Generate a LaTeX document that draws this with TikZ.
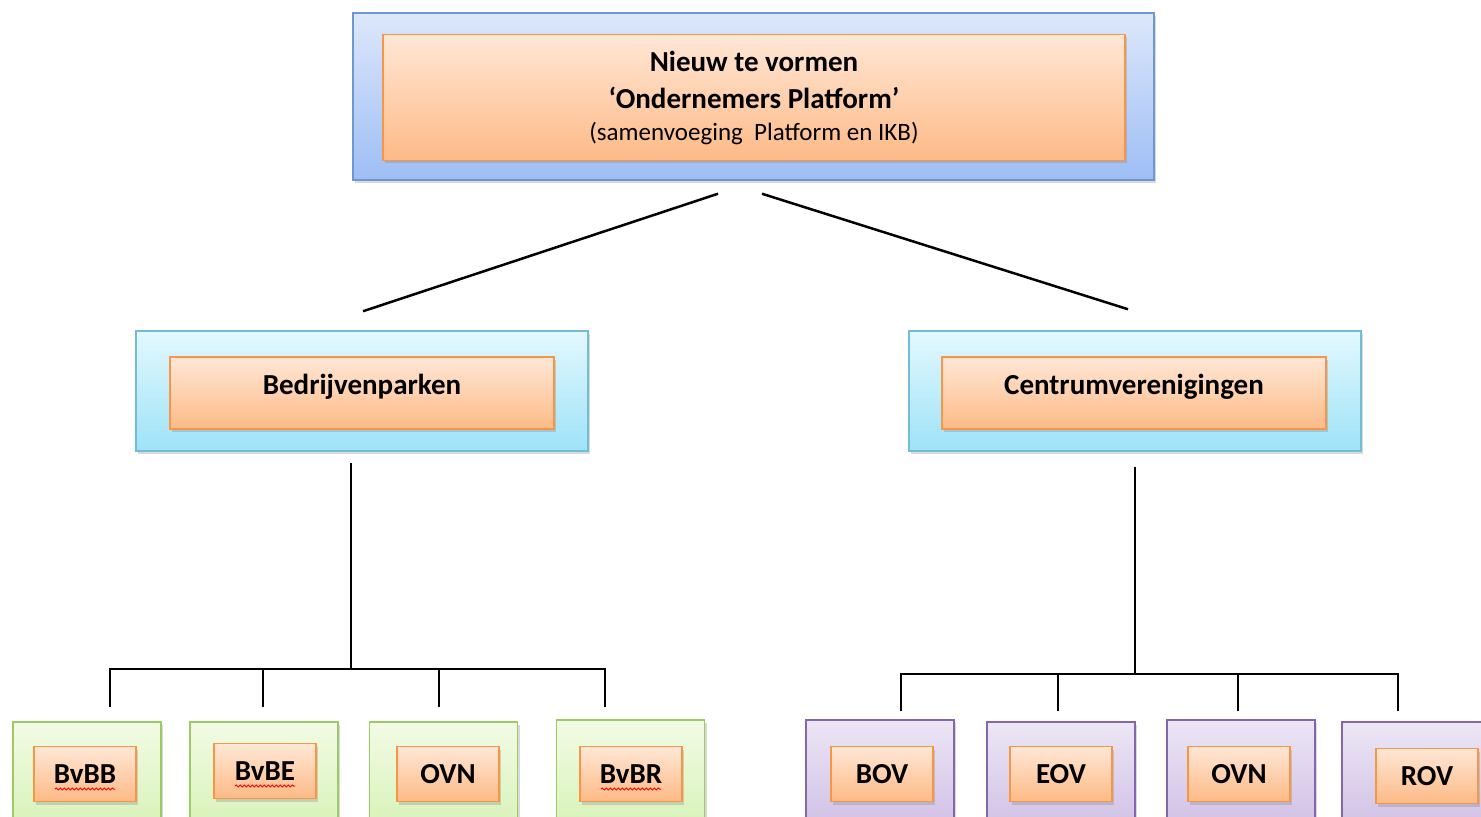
\documentclass[tikz,border=0pt]{standalone}
\usepackage{fontspec}
\setmainfont{Carlito}
\usetikzlibrary{positioning,calc,shadows,decorations.pathmorphing}

\definecolor{orTop}{HTML}{FFE7D6}
\definecolor{orBot}{HTML}{FDBA86}
\definecolor{orLine}{HTML}{F79646}
\definecolor{blTop}{HTML}{DDE7FB}
\definecolor{blBot}{HTML}{9EBEF4}
\definecolor{blLine}{HTML}{6F97D3}
\definecolor{cyTop}{HTML}{E3F8FE}
\definecolor{cyBot}{HTML}{9EE3F8}
\definecolor{cyLine}{HTML}{72BCD6}
\definecolor{grTop}{HTML}{F2FBE5}
\definecolor{grBot}{HTML}{CDEFA6}
\definecolor{grLine}{HTML}{9BCB62}
\definecolor{puTop}{HTML}{ECE6F5}
\definecolor{puBot}{HTML}{C6B1DF}
\definecolor{puLine}{HTML}{8466AA}

\tikzset{
    box/.style={draw, line width=0.75pt, inner sep=0pt,
        drop shadow={opacity=0.3, shadow xshift=1pt, shadow yshift=-1.5pt}},
    kader/.style={box, draw=#1Line, top color=#1Top, bottom color=#1Bot},
    blok/.style={box, draw=orLine, top color=orTop, bottom color=orBot,
        font=\fontsize{14.5}{18.5}\selectfont\bfseries},
    link/.style={line width=1.25pt},
    spell/.style={red, line width=0.5pt, decorate,
        decoration={snake, amplitude=0.5pt, segment length=2pt}}
}

\begin{document}
\begin{tikzpicture}[x=0.5pt,y=-0.5pt]
    \useasboundingbox (0,0) rectangle (1481,817);
    \clip (0,0) rectangle (1481,817);

    % top level
    \node[kader=bl, minimum width=400.5pt, minimum height=83.5pt] (plat-o) at (753.5,96.5) {};
    \node[blok, minimum width=371pt, minimum height=63pt, align=center] (plat) at (754,97.5)
        {Nieuw te vormen\\ ‘Ondernemers Platform’\\[-2.5pt]
         {\mdseries\fontsize{12.5}{16}\selectfont (samenvoeging~ Platform en IKB)}};

    % second level
    \node[kader=cy, minimum width=226pt, minimum height=60pt] (bpark-o) at (362,391) {};
    \node[blok, minimum width=192pt, minimum height=36pt] (bpark) at (362,393)
        {\raisebox{3pt}[\height][\depth]{Bedrijvenparken}};
    \node[kader=cy, minimum width=226pt, minimum height=60pt] (centr-o) at (1135,391) {};
    \node[blok, minimum width=192pt, minimum height=36pt] (centr) at (1134,393)
        {\raisebox{3pt}[\height][\depth]{Centrumverenigingen}};

    \draw[link] ($(plat-o.south)+(-35.5,13)$) -- ($(bpark-o.north)+(1,-19)$);
    \draw[link] ($(plat-o.south)+(8.5,13)$) -- ($(centr-o.north)+(-7,-21)$);

    % busses
    \coordinate (busL) at (351,669);
    \coordinate (busR) at (1135,674);
    \draw[link] ($(bpark-o.south)+(-11,11)$) -- (busL);
    \draw[link] ($(centr-o.south)+(0,15)$) -- (busR);

    % bottom row, Bedrijvenparken
    \foreach \name/\ox/\oy/\ix/\iy/\dx/\dy/\txt in {
        bvbb/87/797/85/774/23/14/BvBB,
        bvbe/264/797/265/771/-1/14/BvBE,
        ovna/443.5/797/448/774/-4.5/14/OVN,
        bvbr/630.5/795/631/774/-25.5/12/BvBR} {
        \node[kader=gr, minimum width=74pt, minimum height=75pt] (\name-o) at (\ox,\oy) {};
        \node[blok, minimum width=51pt, minimum height=27.5pt] (\name) at (\ix,\iy) {\txt};
        \draw[link] ($(\name-o.north)+(\dx,-\dy)$) |- (busL);
    }
    \foreach \name in {bvbb,bvbe,bvbr}
        \draw[spell] ($(\name.center)+(-30,15)$) -- ++(60,0);

    % bottom row, Centrumverenigingen
    \foreach \name/\ox/\oy/\ix/\iy/\dx/\dy/\txt in {
        bov/880/795/882/774/21/8/BOV,
        eov/1061/797/1061/774/-3/10/EOV,
        ovnb/1241/795/1239/774/-3/8/OVN,
        rov/1416/797/1427/776/-18/10/ROV} {
        \node[kader=pu, minimum width=74pt, minimum height=75pt] (\name-o) at (\ox,\oy) {};
        \node[blok, minimum width=51pt, minimum height=27.5pt] (\name) at (\ix,\iy) {\txt};
        \draw[link] ($(\name-o.north)+(\dx,-\dy)$) |- (busR);
    }
\end{tikzpicture}
\end{document}
